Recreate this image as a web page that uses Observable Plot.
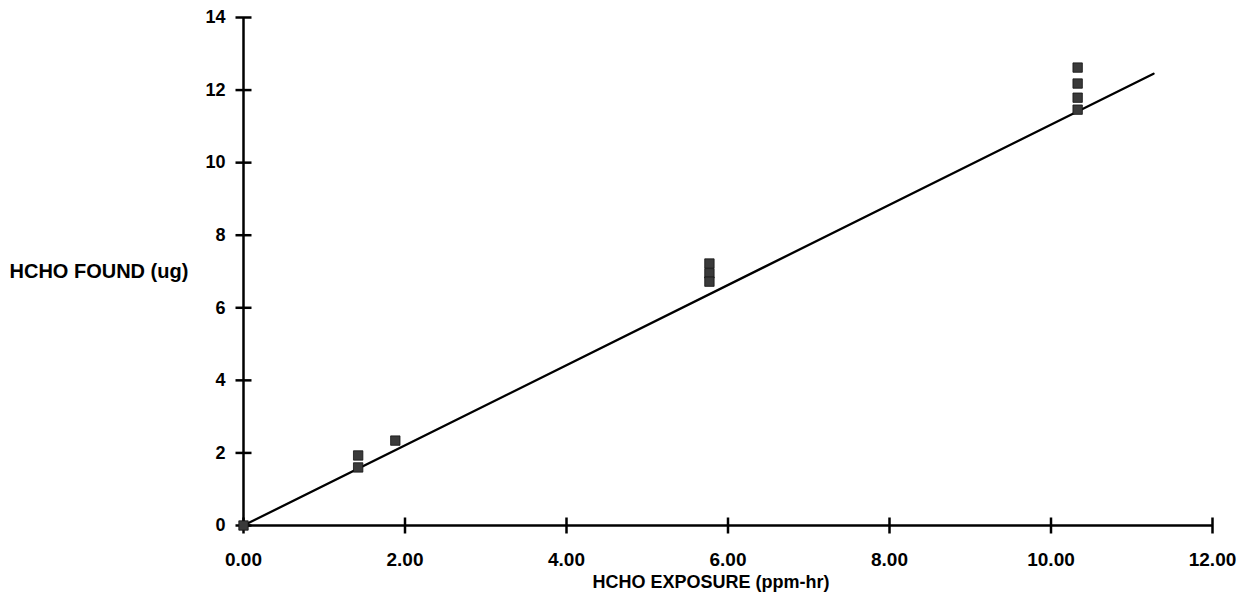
<!DOCTYPE html>
<html>
<head>
<meta charset="utf-8">
<script src="https://cdn.jsdelivr.net/npm/d3@7"></script>
<script src="https://cdn.jsdelivr.net/npm/@observablehq/plot@0.6"></script>
<style>
  html, body { margin: 0; padding: 0; background: #fff; }
  #chart { width: 1252px; height: 612px; }
  svg { font-family: "Liberation Sans", Arial, sans-serif; }
</style>
</head>
<body>
<div id="chart"></div>
<script>
// Measured samples
const exposure = [0, 1.42, 1.42, 1.88, 5.77, 5.77, 5.77, 10.33, 10.33, 10.33, 10.33];
const found    = [0, 1.93, 1.60, 2.34, 7.22, 6.95, 6.72, 12.62, 12.18, 11.79, 11.46];

// Fitted line endpoints
const fitX = [0, 11.27];
const fitY = [0, 12.45];

// Axis ticks
const xTicks = [0, 2, 4, 6, 8, 10, 12];
const yTicks = [0, 2, 4, 6, 8, 10, 12, 14];

const xTitle = "HCHO EXPOSURE (ppm-hr)";
const yTitle = "HCHO FOUND (ug)";

const points = exposure.map((x, i) => ({x, y: found[i]}));
const fit = fitX.map((x, i) => ({x, y: fitY[i]}));

// custom symbols for ticks crossing the axis lines
const hBar = {draw(ctx, size) { const r = Math.sqrt(size / Math.PI); ctx.moveTo(-r, 0); ctx.lineTo(r, 0); }};
const vBar = {draw(ctx, size) { const r = Math.sqrt(size / Math.PI); ctx.moveTo(0, -r); ctx.lineTo(0, r); }};

const chart = Plot.plot({
  width: 1252,
  height: 612,
  marginLeft: 243,
  marginRight: 40,
  marginTop: 17,
  marginBottom: 87,
  style: {fontFamily: '"Liberation Sans", Arial, sans-serif', background: "#fff", color: "#000"},
  x: {domain: [0, 12]},
  y: {domain: [0, 14]},
  marks: [
    Plot.axisX(xTicks, {tickSize: 0, tickPadding: 27, tickFormat: d => d.toFixed(2), fontSize: 19, fontWeight: "bold", label: null}),
    Plot.axisY(yTicks, {tickSize: 0, tickPadding: 18, tickFormat: d => String(d), fontSize: 18, fontWeight: "bold", label: null}),
    Plot.ruleX([0], {y1: 0, y2: 14, stroke: "#000", strokeWidth: 2.5}),
    Plot.ruleY([0], {x1: 0, x2: 12, stroke: "#000", strokeWidth: 2.5}),
    Plot.dot(yTicks, {x: () => 0, y: d => d, symbol: hBar, r: 8, stroke: "#000", strokeWidth: 2.5, fill: "none"}),
    Plot.dot(xTicks, {x: d => d, y: () => 0, symbol: vBar, r: 8, stroke: "#000", strokeWidth: 2.5, fill: "none"}),
    Plot.line(fit, {x: "x", y: "y", stroke: "#000", strokeWidth: 2.3}),
    Plot.dot(points, {x: "x", y: "y", symbol: "square", r: 5.3, fill: "#3a3a3a", stroke: "#111", strokeWidth: 0.8}),
    Plot.text([xTitle], {frameAnchor: "bottom", dy: 57, dx: -17, lineAnchor: "middle", fontSize: 18, fontWeight: "bold", fill: "#000"}),
    Plot.text([yTitle], {frameAnchor: "left", dx: -234, textAnchor: "start", lineAnchor: "middle", fontSize: 20, fontWeight: "bold", fill: "#000"})
  ]
});
document.getElementById("chart").appendChild(chart);
</script>
</body>
</html>
